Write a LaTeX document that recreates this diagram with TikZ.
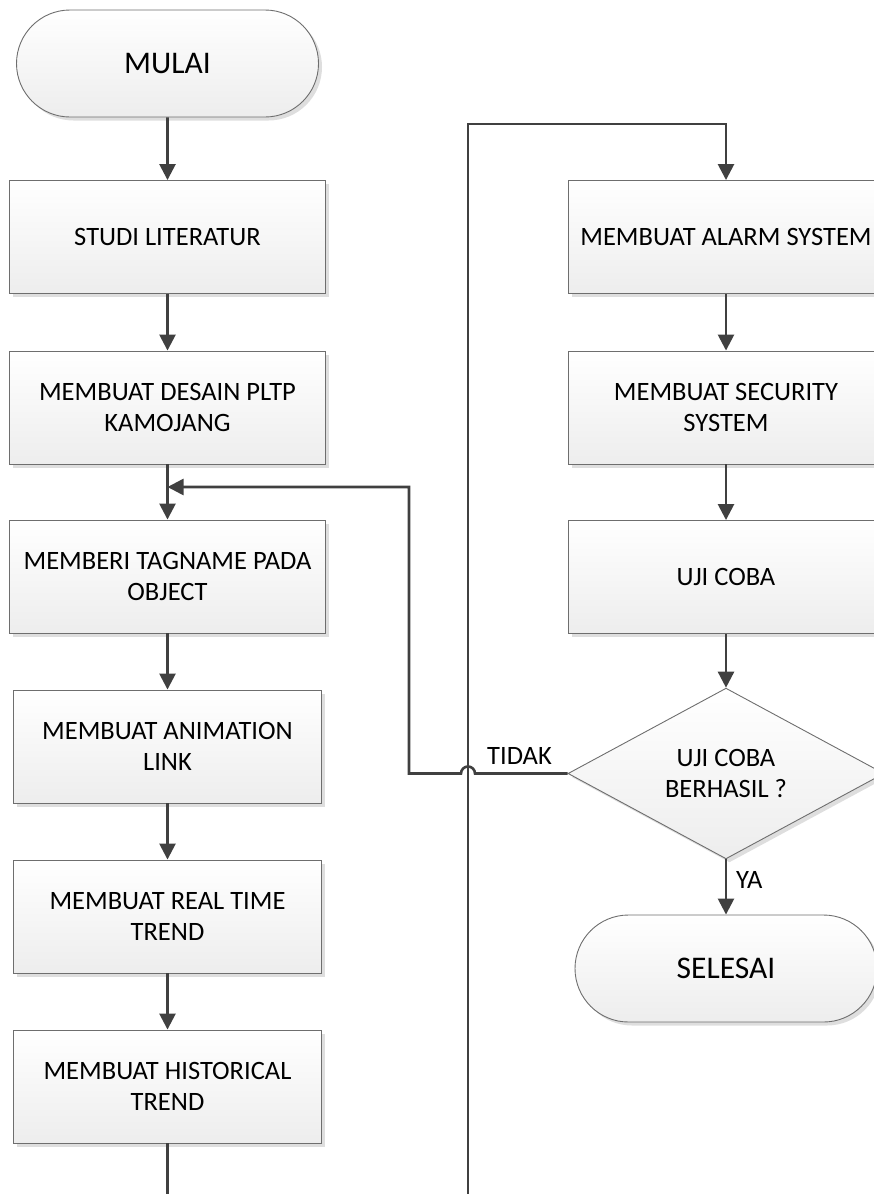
\documentclass[tikz,border=0pt]{standalone}
\usepackage{fontspec}
\setmainfont{Carlito}
\usetikzlibrary{arrows.meta,shapes.misc,shapes.geometric,shadows}
\definecolor{lineC}{HTML}{404040}
\definecolor{edgeC}{HTML}{6E6E6E}
\begin{document}
\begin{tikzpicture}[x=1pt,y=-1pt,
  base/.style={draw=edgeC,line width=0.9pt,top color=white,bottom color=black!7,
    drop shadow={shadow xshift=3.5pt,shadow yshift=-3.5pt,fill=black!13,opacity=1},
    inner sep=0pt,align=center,font=\fontsize{26.5}{31.5}\selectfont},
  procbox/.style={base,rectangle,minimum width=#1,minimum height=113pt},
  procbox/.default=316pt,
  termbox/.style={base,rounded rectangle,minimum width=302pt,minimum height=107pt,
    font=\fontsize{31.5}{37}\selectfont},
  decbox/.style={base,diamond,minimum width=316pt,minimum height=167pt},
  conn/.style={draw=lineC,line width=2.6pt},
  arr/.style={conn,-{Triangle[length=16pt,width=16pt]}},
  lbl/.style={font=\fontsize{26.5}{31.5}\selectfont,inner sep=0pt,anchor=base west}]
\useasboundingbox (0,0) rectangle (874,1194);
\clip (0,0) rectangle (874,1194);

% left column
\node[termbox] (mulai) at (167.5,63.5) {MULAI};
\node[procbox] (studi) at (167.5,237) {STUDI LITERATUR};
\node[procbox] (desain) at (167.5,407.5) {MEMBUAT DESAIN PLTP\\KAMOJANG};
\node[procbox] (tag) at (167.5,576.5) {MEMBERI TAGNAME PADA\\OBJECT};
\node[procbox=308pt] (anim) at (167.5,746.5) {MEMBUAT ANIMATION\\LINK};
\node[procbox=308pt] (real) at (167.5,916.5) {MEMBUAT REAL TIME\\TREND};
\node[procbox=308pt] (hist) at (167.5,1086.5) {MEMBUAT HISTORICAL\\TREND};

% right column
\node[procbox] (alarm) at (726,237) {MEMBUAT ALARM SYSTEM};
\node[procbox] (sec) at (726,407.5) {MEMBUAT SECURITY\\SYSTEM};
\node[procbox] (uji) at (726,577) {UJI COBA};
\node[decbox] (dec) at (726,773.5) {UJI COBA\\BERHASIL ?};
\node[termbox] (selesai) at (726,968.5) {SELESAI};

% helper coordinates
\coordinate (join) at (167.5,487);
\coordinate (fbcorner) at (409,487);
\coordinate (hopR) at (475,773.5);
\coordinate (bl) at (167.5,1194);
\coordinate (br) at (468,1194);
\coordinate (topL) at (468,124);

% connectors
\draw[arr] (mulai) -- (studi);
\draw[arr] (studi) -- (desain);
\draw[arr] (desain) -- (tag);
\draw[arr] (tag) -- (anim);
\draw[arr] (anim) -- (real);
\draw[arr] (real) -- (hist);
\draw[conn] (hist) -- (bl);
\draw[arr] (br) -- (topL) -| (alarm.north);
\draw[arr] (alarm) -- (sec);
\draw[arr] (sec) -- (uji);
\draw[arr] (uji) -- (dec);
\draw[arr] (dec) -- (selesai);
\draw[arr] (dec.west) -- (hopR) arc[start angle=0,end angle=180,radius=7pt]
  -- (fbcorner |- dec.west) -- (fbcorner) -- (join);

% labels
\node[lbl] (tidak) at (487,764) {TIDAK};
\node[lbl] (ya) at (736,888) {YA};
\end{tikzpicture}
\end{document}
